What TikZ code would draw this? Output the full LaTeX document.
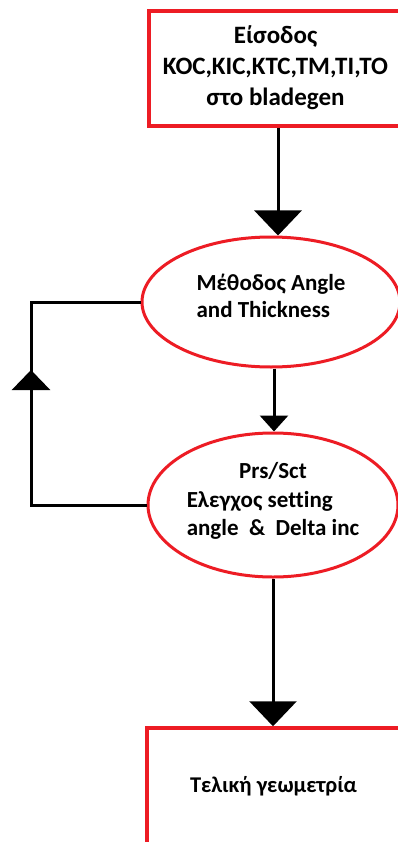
\documentclass[tikz,border=0pt]{standalone}
\usepackage{fontspec}
\setmainfont[Ligatures={NoCommon,TeX}]{Carlito}
\usetikzlibrary{arrows.meta,shapes.geometric,calc}
\definecolor{pred}{RGB}{237,28,36}

\begin{document}
\begin{tikzpicture}[x=1pt,y=-1pt,
  redbox/.style={draw=pred, line width=3.5pt, rectangle, inner sep=0pt,
    minimum width=253pt, font=\bfseries},
  redell/.style={draw=pred, line width=3pt, ellipse, inner sep=0pt, font=\bfseries},
  flow/.style={line width=3pt, draw=black},
  bigtip/.style={-{Triangle[width=47pt,length=25pt]}},
  smalltip/.style={-{Triangle[width=28pt,length=16pt]}},
  backtip/.style={-{Triangle[width=38pt,length=20pt]}}]
\useasboundingbox (0,0) rectangle (398,842);
\clip (0,0) rectangle (398,842);
\fill[white] (0,0) rectangle (398,842);

% input box
\node[redbox, minimum height=115pt, align=center,
  font=\bfseries\fontsize{25}{31}\selectfont] (in1) at (275.5,68.5)
  {\raisebox{-6pt}[0pt][0pt]{\begin{tabular}{@{}c@{}}Είσοδος\\KOC,KIC,KTC,TM,TI,TO\\στο bladegen\end{tabular}}};

% method ellipse
\node[redell, minimum width=258pt, minimum height=130pt] (m1) at (271,302)
  {\fontsize{23}{27}\selectfont\raisebox{-3pt}[0pt][0pt]{\begin{tabular}{@{}l@{}}Μέθοδος Angle\\and Thickness\end{tabular}}};

% check ellipse
\node[redell, minimum width=250pt, minimum height=144pt] (m2) at (273,505)
  {\fontsize{23}{28.5}\selectfont\raisebox{-3pt}[0pt][0pt]{\begin{tabular}{@{}l@{}}\multicolumn{1}{@{}c@{}}{Prs/Sct}\\
   Ελεγχος setting\\angle\ \ \&\ \ Delta inc\end{tabular}}};

% output box, running off the page
\node[redbox, minimum height=144pt, font=\bfseries\fontsize{22.5}{27}\selectfont]
  (out) at (273.5,800) {\raisebox{8pt}[0pt][0pt]{Τελική γεωμετρία}};

% main flow
\draw[flow,bigtip] ([xshift=2.5pt]in1.south) -- ([xshift=2.5pt]in1.south |- m1.north);
\draw[flow,smalltip] ([xshift=3pt]m1.south) -- ([xshift=3pt]m1.south |- m2.north);
\draw[flow,bigtip] (m2.south) -- (m2.south |- out.north);

% feedback loop
\coordinate (fbl) at (31,0);
\draw[flow] (m2.west) -- (m2.west -| fbl) -- (m1.west -| fbl) -- (m1.west);
\draw[flow,backtip] ($(m2.west -| fbl)!0.55!(m1.west -| fbl)$) -- ($(m2.west -| fbl)!0.665!(m1.west -| fbl)$);
\end{tikzpicture}
\end{document}
